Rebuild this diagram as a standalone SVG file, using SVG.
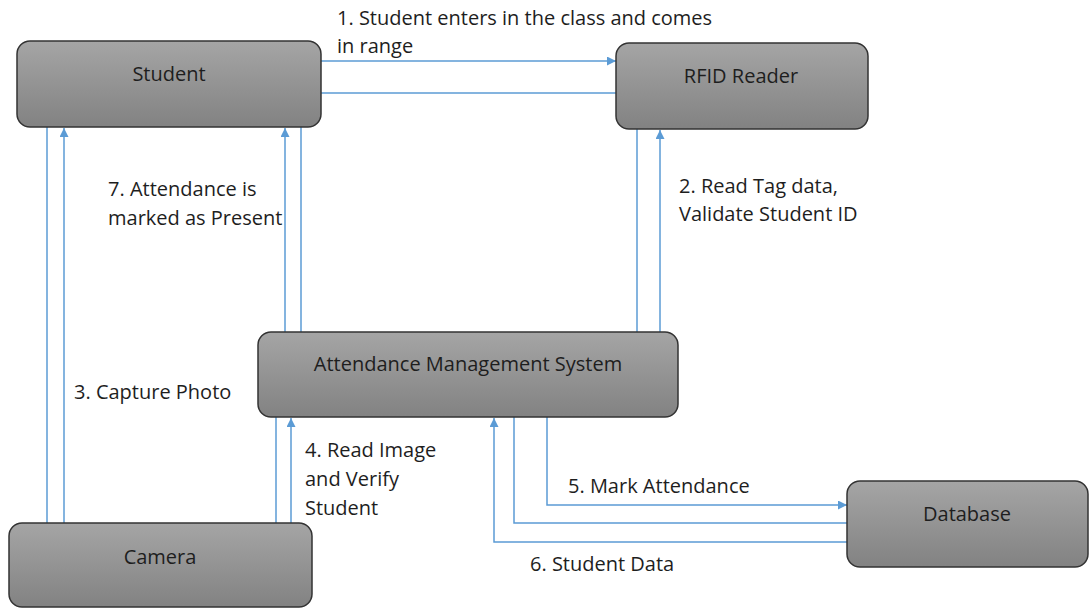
<svg xmlns="http://www.w3.org/2000/svg" width="1091" height="608" viewBox="0 0 1091 608">
  <defs>
    <linearGradient id="boxFill" x1="0" y1="0" x2="0" y2="1">
      <stop offset="0" stop-color="#a5a5a5"/>
      <stop offset="1" stop-color="#828282"/>
    </linearGradient>
    <marker id="arrow" viewBox="0 0 10 10" refX="10" refY="5" markerWidth="9" markerHeight="9" markerUnits="userSpaceOnUse" orient="auto">
      <path d="M0,0 L10,5 L0,10 z" fill="#5b9bd5"/>
    </marker>
    <style>
      .box { fill: url(#boxFill); stroke: #333; stroke-width: 1.5; }
      .label { font-family: "Open Sans", "Liberation Sans", sans-serif; font-size: 20px; fill: #1e1e1e; }
      .name { font-family: "Open Sans", "Liberation Sans", sans-serif; font-size: 20px; fill: #1e1e1e; text-anchor: middle; }
      .wire { fill: none; stroke: #5b9bd5; stroke-width: 1.5; }
      .arr { marker-end: url(#arrow); }
    </style>
  </defs>
  <rect width="1091" height="608" fill="#fff"/>

  <!-- connectors -->
  <g id="connectors">
    <!-- Student <-> RFID Reader -->
    <line class="wire arr" x1="321" y1="61" x2="616" y2="61"/>
    <line class="wire" x1="321" y1="93" x2="616" y2="93"/>
    <!-- RFID Reader <-> Attendance Management System -->
    <line class="wire" x1="637" y1="129" x2="637" y2="332"/>
    <line class="wire arr" x1="660" y1="332" x2="660" y2="130"/>
    <!-- Attendance Management System <-> Student -->
    <line class="wire arr" x1="285" y1="332" x2="285" y2="128"/>
    <line class="wire" x1="301" y1="332" x2="301" y2="127"/>
    <!-- Camera <-> Student -->
    <line class="wire" x1="47" y1="523" x2="47" y2="127"/>
    <line class="wire arr" x1="64" y1="523" x2="64" y2="128"/>
    <!-- Camera <-> Attendance Management System -->
    <line class="wire" x1="276" y1="523" x2="276" y2="417"/>
    <line class="wire arr" x1="291" y1="523" x2="291" y2="418"/>
    <!-- Attendance Management System <-> Database -->
    <polyline class="wire arr" points="547,417 547,505 847,505"/>
    <polyline class="wire" points="514,417 514,523 847,523"/>
    <polyline class="wire arr" points="847,542 494,542 494,418"/>
  </g>

  <!-- connector labels -->
  <g id="labels">
    <text class="label" x="337" y="25">1. Student enters in the class and comes</text>
    <text class="label" x="337" y="53">in range</text>
    <text class="label" x="679" y="193">2. Read Tag data,</text>
    <text class="label" x="679" y="221">Validate Student ID</text>
    <text class="label" x="108" y="196">7. Attendance is</text>
    <text class="label" x="108" y="225">marked as Present</text>
    <text class="label" x="74" y="399">3. Capture Photo</text>
    <text class="label" x="305" y="457">4. Read Image</text>
    <text class="label" x="305" y="486">and Verify</text>
    <text class="label" x="305" y="515">Student</text>
    <text class="label" x="568" y="493">5. Mark Attendance</text>
    <text class="label" x="530" y="571">6. Student Data</text>
  </g>

  <g id="student">
    <rect class="box" x="17" y="41" width="304" height="86" rx="13"/>
    <text class="name" x="169" y="81">Student</text>
  </g>
  <g id="rfid-reader">
    <rect class="box" x="616" y="43" width="252" height="86" rx="13"/>
    <text class="name" x="741" y="83">RFID Reader</text>
  </g>
  <g id="attendance-system">
    <rect class="box" x="258" y="332" width="420" height="85" rx="13"/>
    <text class="name" x="468" y="371">Attendance Management System</text>
  </g>
  <g id="camera">
    <rect class="box" x="9" y="523" width="303" height="84" rx="13"/>
    <text class="name" x="160" y="564">Camera</text>
  </g>
  <g id="database">
    <rect class="box" x="847" y="481" width="241" height="86" rx="13"/>
    <text class="name" x="967" y="521">Database</text>
  </g>
</svg>
